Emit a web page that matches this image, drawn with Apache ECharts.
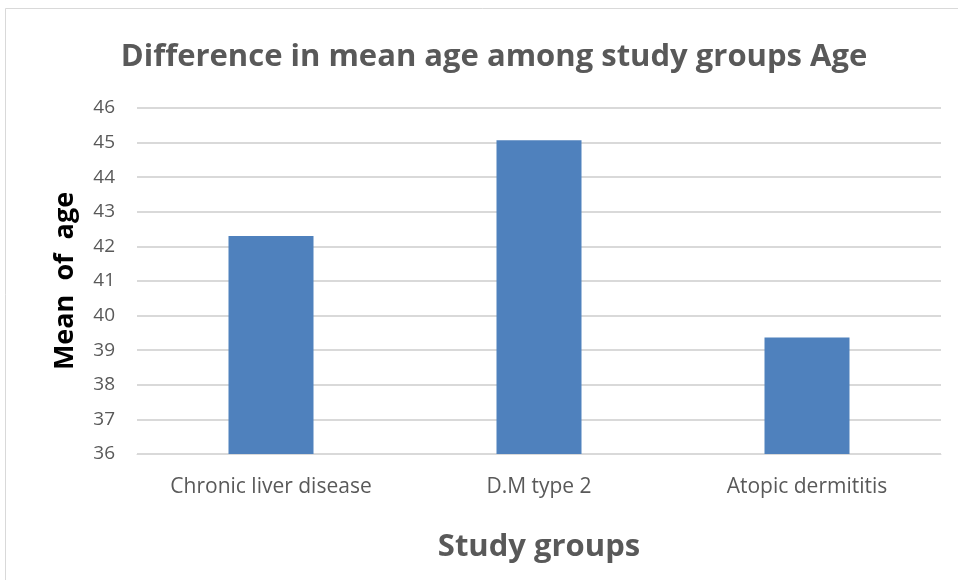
<!DOCTYPE html>
<html><head><meta charset="utf-8">
<script src="https://cdn.jsdelivr.net/npm/echarts@6/dist/echarts.min.js"></script>
<style>html,body{margin:0;padding:0;background:#fff}#c{width:958px;height:580px}</style>
</head><body><div id="c"></div>
<script>
const categories = ['Chronic liver disease', 'D.M type 2', 'Atopic dermititis'];
const meanAge = [42.3, 45.07, 39.37];
const yTicks = [36, 37, 38, 39, 40, 41, 42, 43, 44, 45, 46];

const chart = echarts.init(document.getElementById('c'));
chart.setOption({
  backgroundColor: '#fff',
  animation: false,
  graphic: [{type: 'rect', shape: {x: 5.5, y: 8.5, width: 960, height: 575}, style: {fill: 'none', stroke: '#d9d9d9', lineWidth: 1}}],
  title: {
    text: 'Difference in mean age among study groups Age',
    left: 489, top: 37, textAlign: 'center',
    textStyle: {fontFamily: 'Open Sans', fontWeight: 'bold', fontSize: 31, color: '#595959'}
  },
  grid: {left: 137, right: 17, top: 108, bottom: 126},
  xAxis: {
    type: 'category', data: categories,
    name: 'Study groups', nameLocation: 'middle', nameGap: 78,
    nameTextStyle: {fontFamily: 'Open Sans', fontWeight: 'bold', fontSize: 31, color: '#595959'},
    axisLine: {lineStyle: {color: '#d9d9d9', width: 1}},
    axisTick: {show: false},
    axisLabel: {fontFamily: 'Open Sans', fontSize: 21, color: '#595959', margin: 23},
  },
  yAxis: {
    type: 'value', min: yTicks[0], max: yTicks[yTicks.length - 1], interval: 1,
    name: 'Mean  of  age', nameLocation: 'middle', nameGap: 58, nameRotate: 90,
    nameTextStyle: {fontFamily: 'Open Sans', fontWeight: 'bold', fontSize: 27, color: '#000'},
    axisLine: {show: false}, axisTick: {show: false},
    axisLabel: {fontFamily: 'Open Sans', fontSize: 19, color: '#595959', margin: 22},
    splitLine: {lineStyle: {color: '#d9d9d9', width: 2}}
  },
  series: [{
    type: 'bar', data: meanAge, barWidth: 85,
    itemStyle: {color: '#4f81bd'}
  }]
});
</script></body></html>
